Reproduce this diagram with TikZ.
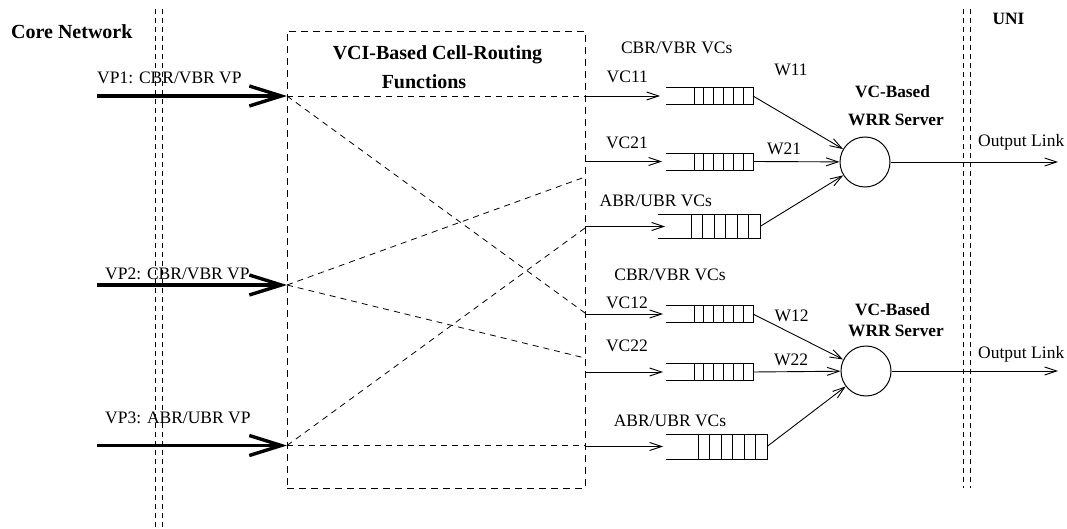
\documentclass[tikz,border=0pt]{standalone}
\usepackage{fontspec}
\setmainfont{Liberation Serif}
\usetikzlibrary{arrows.meta,calc}

% open-ended FIFO queue: top, bottom and right edges plus the cell dividers
\newcommand{\cellqueue}[3]{% node name, number of cells, width taken by the cells
  \draw[qline] (#1.north west) -- (#1.north east) -- (#1.south east) -- (#1.south west);
  \foreach \k in {1,...,#2}{
    \draw[qline] ($(#1.north east)+({-\k*#3/#2},0)$) -- ($(#1.south east)+({-\k*#3/#2},0)$);
  }
}

\begin{document}
\begin{tikzpicture}[x=1pt,y=-1pt,
  lbl/.style={font=\fontsize{17.5}{20}\selectfont, inner sep=0pt},
  blbl/.style={font=\fontsize{17.3}{20}\selectfont\bfseries, inner sep=0pt},
  bigb/.style={font=\fontsize{20}{24}\selectfont\bfseries, inner sep=0pt},
  qline/.style={line width=0.9pt},
  qnode/.style={inner sep=0pt, outer sep=0pt},
  arr/.style={line width=0.9pt, -{Straight Barb[length=12pt,width=8pt]}},
  vparr/.style={line width=3.4pt, -{Straight Barb[length=32pt,width=20pt]}},
  route/.style={line width=0.8pt, dash pattern=on 6pt off 5pt},
  border/.style={line width=0.8pt, dash pattern=on 5pt off 4pt},
  server/.style={circle, draw, line width=1pt, minimum size=50pt, inner sep=0pt},
  routerbox/.style={draw, line width=0.8pt, dash pattern=on 7pt off 5pt, inner sep=0pt}
]
\useasboundingbox (0,0) rectangle (1067,529);

% network boundaries
\draw[border] (155.5,9) -- (155.5,527);
\draw[border] (162.5,9) -- (162.5,527);
\draw[border] (963,9) -- (963,488);
\draw[border] (970.5,9) -- (970.5,488);
\node[bigb, anchor=base west] (core) at (11,38.3) {Core Network};
\node[blbl, anchor=base] (uni) at (1008.5,25) {UNI};

% cell-routing block
\node[routerbox, minimum width=298pt, minimum height=457pt] (router) at (436,259.5) {};
\node[bigb, anchor=base] (rt1) at (437.5,60) {VCI-Based Cell-Routing};
\node[bigb, anchor=base] (rt2) at (424,88.3) {Functions};

% incoming virtual paths
\coordinate (p1) at (287,96);
\coordinate (p2) at (287,285);
\coordinate (p3) at (287,445.5);
\coordinate (s1) at (97,96);
\coordinate (s2) at (97,285);
\coordinate (s3) at (97,445.5);
\draw[vparr] (s1) -- (p1);
\draw[vparr] (s2) -- (p2);
\draw[vparr] (s3) -- (p3);
\node[lbl, anchor=base west] (vp1) at (97,83.3) {VP1: CBR/VBR VP};
\node[lbl, anchor=base west] (vp2) at (105,279.3) {VP2: CBR/VBR VP};
\node[lbl, anchor=base west] (vp3) at (105,423.3) {VP3: ABR/UBR VP};

% queues
\node[qnode, minimum width=87pt, minimum height=17pt] (q11) at (709.5,96) {};
\node[qnode, minimum width=87pt, minimum height=17pt] (q21) at (709.5,161.5) {};
\node[qnode, minimum width=102pt, minimum height=24pt] (qa1) at (709,226.5) {};
\node[qnode, minimum width=87pt, minimum height=17pt] (q12) at (709.5,314) {};
\node[qnode, minimum width=87pt, minimum height=17pt] (q22) at (709.5,372) {};
\node[qnode, minimum width=101pt, minimum height=25pt] (qa2) at (716.5,446.5) {};
\cellqueue{q11}{6}{59}
\cellqueue{q21}{6}{59}
\cellqueue{qa1}{6}{69}
\cellqueue{q12}{6}{59}
\cellqueue{q22}{6}{59}
\cellqueue{qa2}{6}{69}

% routing inside the block
\coordinate (e12) at (585,313);
\coordinate (e21) at (585,177);
\coordinate (e22) at (585,358);
\coordinate (ea1) at (585,228);
\draw[route] (p1) -- (router.east |- p1);
\draw[route] (p1) -- (e12);
\draw[route] (p2) -- (e21);
\draw[route] (p2) -- (e22);
\draw[route] (p3) -- (ea1);
\draw[route] (p3) -- (router.east |- p3);

% per-VC inputs
\draw[arr, shorten >=6pt] (router.east |- q11) -- (q11.west);
\draw[arr, shorten >=4pt] (router.east |- q21) -- (q21.west);
\draw[arr, shorten >=-7pt] (router.east |- qa1) -- (qa1.west);
\draw[arr, shorten >=3pt] (router.east |- q12) -- (q12.west);
\draw[arr, shorten >=3pt] (router.east |- q22) -- (q22.west);
\draw[arr, shorten >=3pt] (router.east |- qa2) -- (qa2.west);

\node[lbl, anchor=base] (g1) at (676.7,53.3) {CBR/VBR VCs};
\node[lbl, anchor=base] (l11) at (627.3,82.7) {VC11};
\node[lbl, anchor=base] (l21) at (627,148.3) {VC21};
\node[lbl, anchor=base] (la1) at (655.8,206.7) {ABR/UBR VCs};
\node[lbl, anchor=base] (g2) at (670,280) {CBR/VBR VCs};
\node[lbl, anchor=base] (l12) at (627,308.3) {VC12};
\node[lbl, anchor=base] (l22) at (627,351.7) {VC22};
\node[lbl, anchor=base] (la2) at (670,426.7) {ABR/UBR VCs};

% WRR servers
\node[server] (sv1) at (865,162) {};
\node[server] (sv2) at (866,371) {};
\draw[arr] (q11.east) -- (sv1);
\draw[arr] (q21.east) -- (sv1);
\draw[arr] (qa1.east) -- (sv1);
\draw[arr] (q12.east) -- (sv2);
\draw[arr] (q22.east) -- (sv2);
\draw[arr] (qa2.east) -- (sv2);
\node[lbl, anchor=base] (w11) at (791,76) {W11};
\node[lbl, anchor=base] (w21) at (784,155) {W21};
\node[lbl, anchor=base] (w12) at (791.5,321.7) {W12};
\node[lbl, anchor=base] (w22) at (791,365) {W22};
\node[blbl, anchor=base] (sa1) at (892.5,97.7) {VC-Based};
\node[blbl, anchor=base west] (sb1) at (848,126) {WRR Server};
\node[blbl, anchor=base] (sa2) at (892.5,315) {VC-Based};
\node[blbl, anchor=base west] (sb2) at (848,336) {WRR Server};

% output links
\coordinate (o1) at (1058,162);
\coordinate (o2) at (1058,371);
\draw[arr] (sv1) -- (o1);
\draw[arr] (sv2) -- (o2);
\node[lbl, anchor=base west] (ol1) at (978,146.7) {Output Link};
\node[lbl, anchor=base west] (ol2) at (978,358.3) {Output Link};
\end{tikzpicture}
\end{document}
